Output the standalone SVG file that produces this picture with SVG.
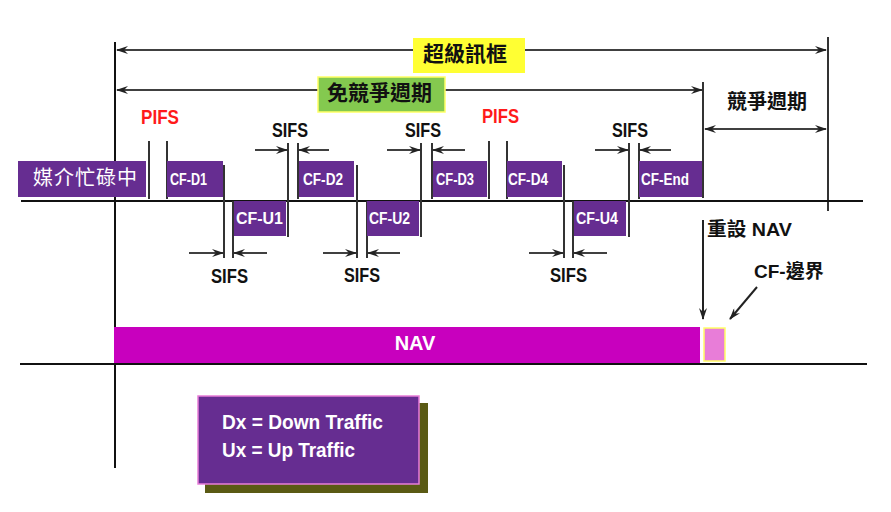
<svg xmlns="http://www.w3.org/2000/svg" width="891" height="512" viewBox="0 0 891 512">
<style>
.cjk{font-family:"Liberation Sans","Noto Sans CJK TC",sans-serif;font-weight:bold;}
.lat{font-family:"Liberation Sans",Arial,sans-serif;font-weight:bold;}
.box{fill:#662D91;}
.wt{fill:#ffffff;}
.bk{fill:#111111;}
.red{fill:#FF1A1A;}
.vl{stroke:#333333;stroke-width:2;fill:none;}
.ar{stroke:#404040;stroke-width:2;fill:none;marker-end:url(#ah);}
.dar{stroke:#404040;stroke-width:2;fill:none;marker-end:url(#ah);marker-start:url(#ah);}
</style>
<defs>
<marker id="ah" viewBox="0 0 12 8" refX="11" refY="4" markerWidth="12" markerHeight="8" markerUnits="userSpaceOnUse" orient="auto-start-reverse">
<path d="M0,0 L12,4 L0,8 L4,4 z" fill="#222222"/>
</marker>
</defs>
<rect width="891" height="512" fill="#ffffff"/>

<g id="connectors">
<line class="vl" x1="115" y1="42" x2="115" y2="468" style="stroke:#111"/>
<line class="vl" x1="828" y1="37" x2="828" y2="211"/>
<line class="vl" x1="703" y1="82" x2="703" y2="198"/>
<line x1="21" y1="201" x2="863" y2="201" stroke="#111" stroke-width="2"/>
<line x1="20" y1="364" x2="867" y2="364" stroke="#111" stroke-width="2"/>
<line class="dar" x1="117" y1="50" x2="826" y2="50"/>
<line class="dar" x1="117" y1="90" x2="702" y2="90"/>
<line class="dar" x1="705" y1="129" x2="826" y2="129"/>
<line class="vl" x1="149" y1="141" x2="149" y2="199"/>
<line class="vl" x1="167" y1="141" x2="167" y2="199"/>
<line class="vl" x1="224" y1="165" x2="224" y2="258"/>
<line class="vl" x1="233" y1="201" x2="233" y2="258"/>
<line class="vl" x1="288" y1="143" x2="288" y2="237"/>
<line class="vl" x1="298" y1="143" x2="298" y2="199"/>
<line class="vl" x1="357" y1="165" x2="357" y2="258"/>
<line class="vl" x1="367" y1="201" x2="367" y2="258"/>
<line class="vl" x1="421" y1="143" x2="421" y2="237"/>
<line class="vl" x1="432" y1="143" x2="432" y2="199"/>
<line class="vl" x1="489" y1="141" x2="489" y2="199"/>
<line class="vl" x1="507" y1="141" x2="507" y2="199"/>
<line class="vl" x1="564" y1="165" x2="564" y2="258"/>
<line class="vl" x1="573" y1="201" x2="573" y2="258"/>
<line class="vl" x1="629" y1="143" x2="629" y2="237"/>
<line class="vl" x1="639" y1="143" x2="639" y2="199"/>
<line class="ar" x1="255" y1="150" x2="287" y2="150"/>
<line class="ar" x1="329" y1="150" x2="299" y2="150"/>
<line class="ar" x1="387" y1="150" x2="420" y2="150"/>
<line class="ar" x1="465" y1="150" x2="433" y2="150"/>
<line class="ar" x1="595" y1="150" x2="628" y2="150"/>
<line class="ar" x1="671" y1="150" x2="640" y2="150"/>
<line class="ar" x1="189" y1="253" x2="223" y2="253"/>
<line class="ar" x1="267" y1="253" x2="234" y2="253"/>
<line class="ar" x1="323" y1="253" x2="356" y2="253"/>
<line class="ar" x1="400" y1="253" x2="368" y2="253"/>
<line class="ar" x1="529" y1="253" x2="563" y2="253"/>
<line class="ar" x1="607" y1="253" x2="574" y2="253"/>
<line class="ar" x1="703" y1="220" x2="703" y2="319" style="stroke:#222"/>
<line class="ar" x1="757" y1="287" x2="730" y2="319" style="stroke:#222"/>
</g>

<g id="superframe">
<rect x="413" y="38" width="112" height="35" fill="#FFFF33"/>
<text class="cjk bk" x="423" y="61" font-size="21">超級訊框</text>
</g>
<g id="cfp">
<rect x="318" y="77" width="127" height="35" fill="#84C94F" stroke="#FFFF66" stroke-width="1.5"/>
<text class="cjk bk" x="327" y="100" font-size="21">免競爭週期</text>
</g>
<g id="cp">
<text class="cjk bk" x="727" y="109" font-size="20">競爭週期</text>
</g>
<g id="busy">
<rect class="box" x="18" y="161" width="128" height="36"/>
<text class="cjk wt" x="33" y="185" font-size="20" letter-spacing="1" font-weight="normal" style="font-weight:normal">媒介忙碌中</text>
</g>

<g id="pifs1"><text class="lat red" x="141" y="124" font-size="21" textLength="38" lengthAdjust="spacingAndGlyphs">PIFS</text></g>
<g id="pifs2"><text class="lat red" x="482" y="123" font-size="21" textLength="37" lengthAdjust="spacingAndGlyphs">PIFS</text></g>
<g id="sifs-t1"><text class="lat bk" x="272" y="137" font-size="21" textLength="36" lengthAdjust="spacingAndGlyphs">SIFS</text></g>
<g id="sifs-t2"><text class="lat bk" x="405" y="137" font-size="21" textLength="36" lengthAdjust="spacingAndGlyphs">SIFS</text></g>
<g id="sifs-t3"><text class="lat bk" x="612" y="137" font-size="21" textLength="36" lengthAdjust="spacingAndGlyphs">SIFS</text></g>
<g id="sifs-b1"><text class="lat bk" x="211" y="283" font-size="21" textLength="37" lengthAdjust="spacingAndGlyphs">SIFS</text></g>
<g id="sifs-b2"><text class="lat bk" x="344" y="282" font-size="21" textLength="36" lengthAdjust="spacingAndGlyphs">SIFS</text></g>
<g id="sifs-b3"><text class="lat bk" x="550" y="282" font-size="21" textLength="37" lengthAdjust="spacingAndGlyphs">SIFS</text></g>

<g id="cf-d1"><rect class="box" x="167" y="161" width="56" height="36"/><text class="lat wt" x="170" y="185" font-size="16" textLength="37" lengthAdjust="spacingAndGlyphs">CF-D1</text></g>
<g id="cf-d2"><rect class="box" x="299" y="161" width="55" height="36"/><text class="lat wt" x="303" y="185" font-size="16" textLength="40" lengthAdjust="spacingAndGlyphs">CF-D2</text></g>
<g id="cf-d3"><rect class="box" x="433" y="161" width="54" height="36"/><text class="lat wt" x="436" y="185" font-size="16" textLength="38" lengthAdjust="spacingAndGlyphs">CF-D3</text></g>
<g id="cf-d4"><rect class="box" x="507" y="161" width="55" height="36"/><text class="lat wt" x="508" y="185" font-size="16" textLength="40" lengthAdjust="spacingAndGlyphs">CF-D4</text></g>
<g id="cf-end"><rect class="box" x="639" y="161" width="63" height="36"/><text class="lat wt" x="641" y="185" font-size="16" textLength="48" lengthAdjust="spacingAndGlyphs">CF-End</text></g>
<g id="cf-u1"><rect class="box" x="234" y="201" width="52" height="35"/><text class="lat wt" x="236" y="224" font-size="16" textLength="47" lengthAdjust="spacingAndGlyphs">CF-U1</text></g>
<g id="cf-u2"><rect class="box" x="367" y="201" width="52" height="35"/><text class="lat wt" x="369" y="224" font-size="16" textLength="41" lengthAdjust="spacingAndGlyphs">CF-U2</text></g>
<g id="cf-u4"><rect class="box" x="574" y="201" width="52" height="35"/><text class="lat wt" x="576" y="224" font-size="16" textLength="42" lengthAdjust="spacingAndGlyphs">CF-U4</text></g>

<g id="reset-nav"><text class="cjk bk" x="707" y="236" font-size="19" textLength="85" lengthAdjust="spacingAndGlyphs">重設 NAV</text></g>
<g id="cf-boundary"><text class="cjk bk" x="754" y="278" font-size="19">CF-邊界</text></g>

<g id="nav">
<rect x="114" y="327" width="586" height="36" fill="#C800BE"/>
<text class="lat wt" x="415" y="350" font-size="20" text-anchor="middle">NAV</text>
</g>
<g id="cf-boundary-box">
<rect x="704" y="328" width="21" height="33" fill="#E87DD8" stroke="#FFFF66" stroke-width="1.5"/>
</g>

<g id="legend">
<rect x="205" y="403" width="223" height="90" fill="#5A5A14"/>
<rect x="198" y="396" width="221" height="88" fill="#662D91" stroke="#E87DD8" stroke-width="1.5"/>
<text class="lat wt" x="222" y="429" font-size="20" textLength="161" lengthAdjust="spacingAndGlyphs">Dx = Down Traffic</text>
<text class="lat wt" x="222" y="457" font-size="20" textLength="133" lengthAdjust="spacingAndGlyphs">Ux = Up Traffic</text>
</g>
</svg>
